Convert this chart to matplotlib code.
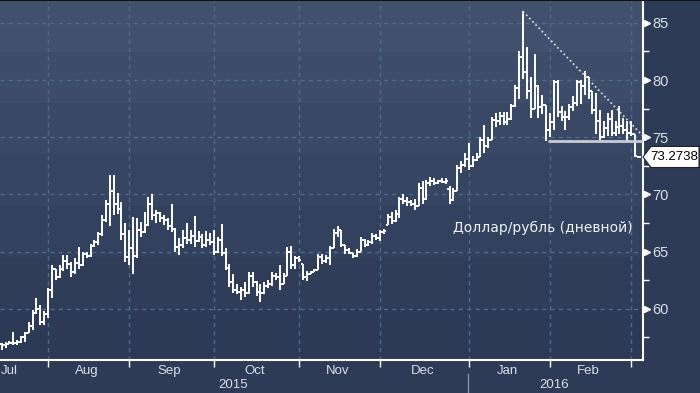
import numpy as np
import pandas as pd
import matplotlib
matplotlib.use('Agg')
import matplotlib.pyplot as plt
from matplotlib.patches import Polygon
from matplotlib.transforms import blended_transform_factory
from matplotlib.colors import LinearSegmentedColormap

# USD/RUB daily bars, 16 Jul 2015 - 3 Mar 2016 (business days)
dates = pd.bdate_range('2015-07-16', '2016-03-03')
opens = [56.9,56.8,56.9,57.0,57.0,57.1,57.5,57.9,58.5,59.6,60.0,58.8,59.5,61.6,63.5,62.8,63.5,64.2,63.9,63.2,
         64.0,63.8,64.8,64.6,65.5,65.8,66.5,67.8,69.2,70.3,69.2,68.7,66.5,64.5,65.3,64.6,66.9,66.7,67.3,69.2,
         68.2,68.4,67.9,67.8,67.2,67.0,65.4,65.6,66.2,66.0,66.4,65.9,66.3,65.6,66.0,65.8,65.0,66.0,64.9,63.6,
         62.3,61.6,61.5,61.6,61.4,62.9,62.3,61.5,61.4,62.0,62.2,62.9,62.8,62.2,62.9,65.0,63.8,64.4,63.9,62.8,
         63.0,63.2,63.4,64.5,64.2,64.4,65.3,66.6,66.9,65.6,65.1,64.9,64.6,65.0,66.0,65.6,65.8,66.4,66.2,66.7,
         67.3,68.0,67.7,68.3,69.6,69.4,69.3,69.2,69.0,70.6,69.6,71.0,71.2,71.0,71.2,71.1,70.5,69.5,70.3,72.3,
         72.6,73.1,72.5,73.0,73.3,74.8,74.2,74.8,76.5,76.4,76.9,76.3,76.6,77.7,79.3,82.0,80.7,79.0,77.5,79.5,
         77.6,77.8,75.6,76.3,79.8,77.2,76.8,76.8,77.6,78.0,79.8,79.5,80.3,79.0,77.4,76.4,75.0,75.8,76.6,75.4,
         75.9,76.0,75.6,75.4,75.3,73.27]
highs = [57.0,57.1,57.2,58.0,57.3,57.6,58.0,58.8,59.9,60.9,60.3,59.8,61.8,63.8,63.5,63.8,64.7,64.7,64.1,64.4,
         65.4,65.0,65.0,65.7,66.0,66.7,68.2,69.5,71.7,71.7,70.1,69.3,67.5,66.9,68.0,67.9,67.6,68.5,69.8,70.0,
         68.6,68.5,68.2,67.9,69.2,67.1,66.2,66.9,67.5,66.9,68.1,66.8,66.5,66.8,66.6,66.9,66.3,67.4,65.3,63.9,
         63.0,62.2,61.9,62.3,63.2,63.2,62.4,62.2,62.3,62.5,63.2,63.1,63.8,63.1,65.4,65.5,64.6,64.6,63.9,63.3,
         63.3,63.5,64.8,64.8,64.7,65.5,67.0,67.2,66.9,65.6,65.3,64.9,65.2,66.3,66.1,66.0,66.6,66.5,66.9,67.0,
         68.3,68.5,68.6,69.8,70.0,69.8,69.5,69.6,71.0,71.2,71.3,71.5,71.4,71.3,71.4,71.4,70.7,70.6,72.6,72.9,
         73.6,74.5,73.4,73.6,75.0,76.1,75.0,76.8,77.1,77.2,77.2,77.2,77.9,79.6,82.5,86.0,82.9,80.3,82.3,79.6,
         78.7,77.8,77.1,80.0,80.0,77.7,77.3,77.9,78.6,80.0,80.0,80.8,80.3,79.0,78.9,77.4,76.4,77.1,77.4,76.4,
         77.7,76.7,76.4,76.4,75.3,73.3]
lows = [56.4,56.6,56.9,56.8,56.8,57.0,57.1,57.9,58.1,59.5,58.6,58.6,59.2,60.9,62.5,62.7,63.3,63.5,62.8,63.0,
        63.5,63.7,64.4,64.5,65.4,65.6,66.4,67.6,67.2,68.2,68.3,66.0,64.1,63.8,63.0,64.4,66.3,66.6,67.2,67.8,
        67.5,67.6,67.3,66.9,66.75,65.0,64.7,65.3,65.7,65.7,65.4,65.8,65.3,65.4,65.6,64.7,64.9,64.6,63.4,61.9,
        61.4,61.3,60.8,61.0,61.3,61.9,61.1,60.6,61.3,61.8,62.0,62.5,61.6,62.2,62.9,63.5,63.5,64.1,62.5,62.4,
        63.0,63.2,63.4,63.9,64.0,63.8,65.3,66.3,65.4,64.8,64.8,64.4,64.5,65.0,65.4,65.5,65.7,66.0,65.9,66.5,
        67.3,67.4,67.6,67.9,69.2,69.0,69.0,68.6,69.0,69.2,69.5,70.7,70.8,70.9,71.0,70.9,69.2,69.4,70.3,71.9,
        72.4,72.1,72.4,72.9,73.3,73.6,74.1,74.8,75.9,76.1,76.1,76.1,76.5,77.6,78.3,80.1,78.3,76.7,77.5,76.7,
        77.0,74.7,75.0,75.6,76.8,76.4,75.6,76.5,77.3,77.7,77.9,78.7,78.3,77.0,75.3,74.8,74.9,75.1,75.1,75.1,
        75.3,75.3,74.7,75.1,73.3,73.27]
closes = [56.8,56.9,57.0,57.0,57.1,57.5,57.9,58.5,59.6,60.0,58.8,59.5,61.6,63.5,62.8,63.5,64.2,63.9,63.2,64.0,
          63.8,64.8,64.6,65.5,65.8,66.5,67.8,69.2,70.3,69.2,68.7,66.5,64.5,65.3,64.6,66.9,66.7,67.3,69.2,68.2,
          68.4,67.9,67.8,67.2,67.0,65.4,65.6,66.2,66.0,66.4,65.9,66.3,65.6,66.0,65.8,65.0,66.0,64.9,63.6,62.3,
          61.6,61.5,61.6,61.4,62.9,62.3,61.5,61.4,62.0,62.2,62.9,62.8,62.2,62.9,65.0,63.8,64.4,64.3,62.8,63.0,
          63.2,63.4,64.5,64.2,64.4,65.3,66.6,66.9,65.6,65.1,64.9,64.6,65.0,66.0,65.6,65.8,66.4,66.2,66.7,66.8,
          68.0,67.7,68.3,69.6,69.4,69.3,69.2,69.0,70.6,69.6,71.0,71.2,71.0,71.2,71.1,71.2,69.5,70.3,72.3,72.6,
          73.1,72.5,73.0,73.3,74.8,74.2,74.8,76.5,76.4,76.9,76.3,76.6,77.7,79.3,82.0,80.7,79.0,77.5,79.5,77.6,
          77.8,75.6,76.3,79.8,77.2,76.8,76.8,77.6,78.0,79.8,79.5,80.3,79.0,77.4,76.4,75.0,75.8,76.6,75.4,75.9,
          76.0,75.6,75.4,75.3,73.4,73.27]
last_price = 73.2738
month_names = ['Jul', 'Aug', 'Sep', 'Oct', 'Nov', 'Dec', 'Jan', 'Feb']
years = ['2015', '2016']
support = 74.65
res_start = (135, 86.0)
res_end = (166.1, 75.1)
label = 'Доллар/рубль (дневной)'

x = np.arange(len(dates))
bg = '#2d3b56'
grid_c = '#4b6b8a'
txt_c = '#d9dee8'
fnt = ['Liberation Sans', 'DejaVu Sans']

fig = plt.figure(figsize=(7, 3.93), dpi=100, facecolor=bg)
ax = fig.add_axes([0, 33/393, 643/700, 360/393])
ax.set_xlim(-0.44, 166.1)
ax.set_ylim(55.52, 87.0)

# banded background
cm = LinearSegmentedColormap.from_list('bg', ['#2c3a55', '#41516d'])
bands = np.linspace(0, 1, 7).reshape(-1, 1)
ax.imshow(bands, extent=[0, 1, 0, 1], transform=ax.transAxes, aspect='auto',
          cmap=cm, origin='lower', zorder=0, interpolation='nearest')

# bars
w = 0.55
ax.vlines(x, lows, highs, color='white', lw=1.4, zorder=3)
ax.hlines(opens, x - w, x, color='white', lw=1.4, zorder=3)
ax.hlines(closes, x, x + w, color='white', lw=1.4, zorder=3)

# trend lines
ax.plot([res_start[0], res_end[0]], [res_start[1], res_end[1]], color='#d0d4dc',
        lw=1.3, ls=(0, (1, 1.5)), zorder=4, clip_on=False)
ax.hlines(support, 141.6, 166.1, color='#c9cdd6', lw=2, zorder=4)

# month ticks
m = pd.Series(x, index=dates)
mstart = [m[dates.to_period('M') == p].iloc[0] for p in dates.to_period('M').unique()]
ax.set_xticks(mstart[1:])
ax.set_xticklabels([])
ax.tick_params(axis='x', length=5, color='white', width=1)
ax.set_yticks([60, 65, 70, 75, 80, 85])
ax.set_yticks([57.5, 62.5, 67.5, 72.5, 77.5, 82.5], minor=True)
ax.yaxis.tick_right()
ax.tick_params(axis='y', which='major', length=0, pad=7, labelsize=10.5, labelcolor=txt_c)
ax.tick_params(axis='y', which='minor', length=4, color='white', width=1)
for t in ax.get_yticklabels():
    t.set_fontfamily(fnt)
ax.grid(True, which='major', color=grid_c, ls=(0, (3, 3)), lw=1)
for s in ['left', 'top']:
    ax.spines[s].set_visible(False)
for s in ['right', 'bottom']:
    ax.spines[s].set_color('white')
    ax.spines[s].set_linewidth(1.5)

# triangles on y ticks
tr = blended_transform_factory(ax.transAxes, ax.transData)
ax.plot([1.006] * 6, [60, 65, 70, 75, 80, 85], marker='>', ms=5, color='white',
        ls='none', transform=tr, clip_on=False)

# month and year labels
mid = [(mstart[i] + mstart[i + 1] - 1) / 2 for i in range(len(mstart) - 1)]
mid[0] = 2
trx = blended_transform_factory(ax.transData, fig.transFigure)
for name, p in zip(month_names, mid):
    fig.text(p, 1 - 371/393, name, transform=trx, ha='center', va='center', color=txt_c,
             fontsize=9.5, family=fnt)
jan = mstart[6]
for yr, p in zip(years, [(0 + jan - 1) / 2, (jan + x[-1]) / 2]):
    fig.text(p, 1 - 385/393, yr, transform=trx, ha='center', va='center', color=txt_c,
             fontsize=9.5, family=fnt)
ax.plot([jan - 0.3, jan - 0.3], [0, 1 - 374/393], color='#8a93a5', lw=1,
        transform=trx, clip_on=False)

ax.text(633/643, (360 - 228)/360, label, transform=ax.transAxes, ha='right', va='center',
        color='#eef1f5', fontsize=10, family=['DejaVu Sans'])

# last price box
trf = blended_transform_factory(fig.transFigure, ax.transData)
h = 0.92
box = Polygon([(643/700, last_price), (651/700, last_price + h), (699/700, last_price + h),
               (699/700, last_price - h), (651/700, last_price - h)], closed=True,
              facecolor='white', edgecolor='#222222', lw=0.8, transform=trf, clip_on=False, zorder=6)
fig.patches.append(box)
fig.text(674.5/700, last_price, '%.4f' % last_price, transform=trf, ha='center', va='center',
         color='black', fontsize=9.5, family=fnt, zorder=7)

fig.add_artist(plt.Line2D([0, 1], [0.999, 0.999], color='#111111', lw=1.5, transform=fig.transFigure))

fig.savefig('out.png', dpi=100, facecolor=bg)
